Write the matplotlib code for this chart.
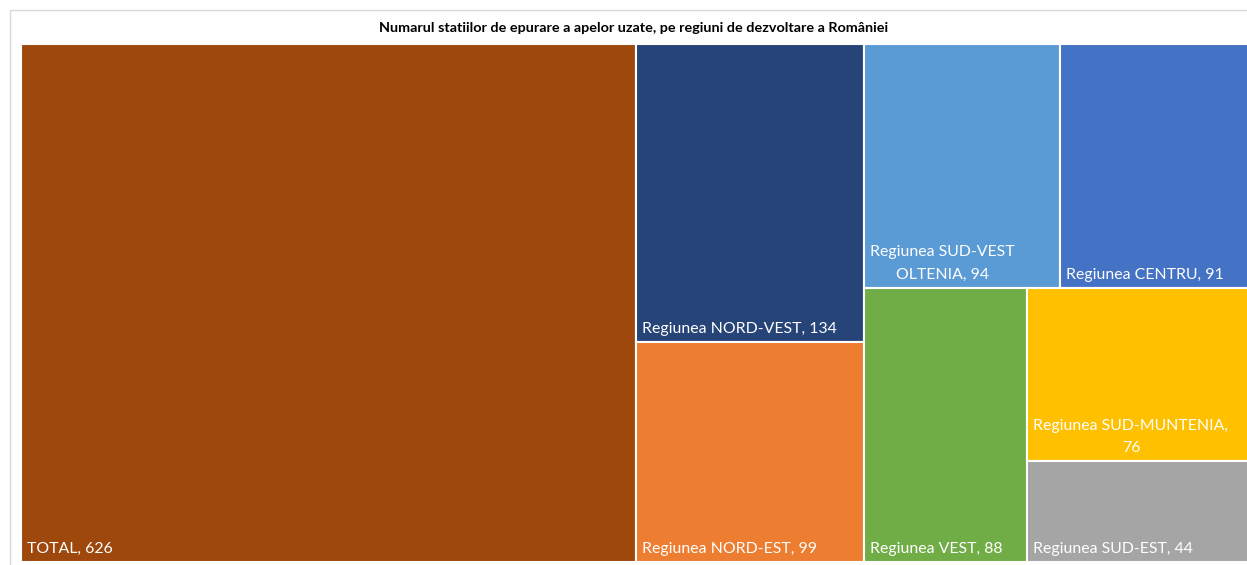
import matplotlib
matplotlib.use("Agg")
import matplotlib.pyplot as plt
from matplotlib.patches import Rectangle

# Data
categories = ["TOTAL", "Regiunea NORD-VEST", "Regiunea NORD-EST",
              "Regiunea SUD-VEST OLTENIA", "Regiunea CENTRU", "Regiunea VEST",
              "Regiunea SUD-MUNTENIA", "Regiunea SUD-EST"]
values = [626, 134, 99, 94, 91, 88, 76, 44]
colors = ["#9E480E", "#264478", "#ED7D31", "#5B9BD5", "#4472C4",
          "#70AD47", "#FFC000", "#A5A5A5"]
title = "Numarul statiilor de epurare a apelor uzate, pe regiuni de dezvoltare a României"

# Treemap nesting: "h" splits left->right, "v" splits top->bottom
layout = ("h", [0, ("v", [1, 2]),
                ("v", [("h", [3, 4]), ("h", [5, ("v", [6, 7])])])])


def node_total(node):
    if isinstance(node, int):
        return values[node]
    return sum(node_total(k) for k in node[1])


def place(node, x, y, w, h, out):
    if isinstance(node, int):
        out[node] = (x, y, w, h)
        return
    d, kids = node
    s = node_total(node)
    if d == "h":
        for k in kids:
            kw = w * node_total(k) / s
            place(k, x, y, kw, h, out)
            x += kw
    else:
        top = y + h
        for k in kids:
            kh = h * node_total(k) / s
            top -= kh
            place(k, x, top, w, kh, out)


FW, FH = 1247, 565
fig = plt.figure(figsize=(FW / 100, FH / 100), dpi=100)
fig.patch.set_facecolor("white")

# light frame around the chart
fig.patches.append(Rectangle((10 / FW, -0.05), 1.1, (FH - 10) / FH + 0.05,
                             transform=fig.transFigure, fill=False,
                             edgecolor="#D9D9D9", linewidth=1.0))

PX0, PY0, PW, PH = 21, 3, 1229, 518
ax = fig.add_axes([PX0 / FW, PY0 / FH, PW / FW, PH / FH])
ax.set_xlim(0, PW)
ax.set_ylim(0, PH)
ax.axis("off")

rects = {}
place(layout, 0, 0, PW, PH, rects)

font = "Lato"
fs = 11.45
renderer = fig.canvas.get_renderer()


def wrap_label(text, maxw):
    words = text.split(" ")
    lines, cur = [], ""
    for wd in words:
        cand = wd if not cur else cur + " " + wd
        t = ax.text(0, 0, cand, fontsize=fs, family=font)
        width = t.get_window_extent(renderer).width
        t.remove()
        if width <= maxw or not cur:
            cur = cand
        else:
            lines.append(cur)
            cur = wd
    lines.append(cur)
    return "\n".join(lines)


for i, (name, val) in enumerate(zip(categories, values)):
    x, y, w, h = rects[i]
    ax.add_patch(Rectangle((x, y), w, h, facecolor=colors[i],
                           edgecolor="white", linewidth=1.5))
    label = wrap_label(f"{name}, {val}", w - 14)
    ax.text(x + 6, y + 6, label, fontsize=fs, family=font, color="white",
            ha="left", va="bottom", multialignment="center", linespacing=1.8)

fig.text(634 / FW, 1 - 28 / FH, title, fontsize=10.35, family=font,
         fontweight="bold", color="black", ha="center", va="center")

fig.savefig("out.png", dpi=100, facecolor="white")
